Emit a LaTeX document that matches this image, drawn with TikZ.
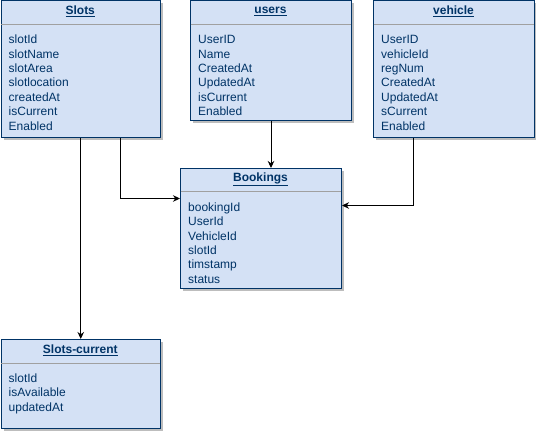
\documentclass[tikz,border=0pt]{standalone}
\usepackage{fontspec}
\setmainfont{Liberation Sans}
\usetikzlibrary{arrows.meta,calc}
\definecolor{tfill}{HTML}{D4E1F5}
\definecolor{tline}{HTML}{003366}
\definecolor{sepc}{HTML}{A0A0A0}
\definecolor{shadc}{HTML}{BDBDBD}
\tikzset{
  tbox/.style={draw=tline,fill=tfill,line width=1pt,inner sep=0pt},
  ttitle/.style={text=tline,font=\fontsize{12}{14.4}\selectfont\bfseries,inner sep=0pt},
  titem/.style={text=tline,font=\fontsize{12}{14.4}\selectfont,inner sep=0pt},
  arr/.style={draw=black,line width=1pt,-{Stealth[length=7pt,width=6.5pt]}},
}
\newcommand\entity[7]{%
  \fill[shadc] (#2+3,#3+3) rectangle ++(#4,#5);
  \node[tbox,minimum width=#4pt,minimum height=#5pt,anchor=north west] (#1) at (#2,#3) {};
  \node[ttitle] (#1-t) at (#2+#4/2,#3+11) {\underline{#6}};
  \draw[sepc,line width=1pt] (#2+0.5,#3+24) -- (#2+#4-0.5,#3+24);
  \foreach \itm [count=\i] in {#7} {
    \node[titem,anchor=base west] (#1-\i) at (#2+8,#3+43.3+14.4*\i-14.4) {\itm};
  }
}
\begin{document}
\begin{tikzpicture}[x=1pt,y=-1pt]
\useasboundingbox (0,0) rectangle (536,433);
\entity{slots}{0.5}{0.5}{159.5}{137}{Slots}{slotId,slotName,slotArea,slotlocation,createdAt,isCurrent,Enabled}
\entity{users}{190}{0.5}{161}{119.5}{users}{UserID,Name,CreatedAt,UpdatedAt,isCurrent,Enabled}
\entity{vehicle}{373}{0.5}{161}{137}{vehicle}{UserID,vehicleId,regNum,CreatedAt,UpdatedAt,sCurrent,Enabled}
\entity{bookings}{180}{168}{161}{120}{Bookings}{bookingId,UserId,VehicleId,slotId,timstamp,status}
\entity{slotscur}{0.5}{339}{159.5}{89}{Slots-current}{slotId,isAvailable,updatedAt}
\draw[arr] (slots.south) -- (slotscur.north);
\draw[arr] ($(slots.south west)!0.75!(slots.south east)$) |- ([yshift=30pt]bookings.west);
\draw[arr] (users.south) -- (users.south |- bookings.north);
\draw[arr] ($(vehicle.south west)!0.25!(vehicle.south east)$) |- ([yshift=23pt]bookings.east);
\end{tikzpicture}
\end{document}
